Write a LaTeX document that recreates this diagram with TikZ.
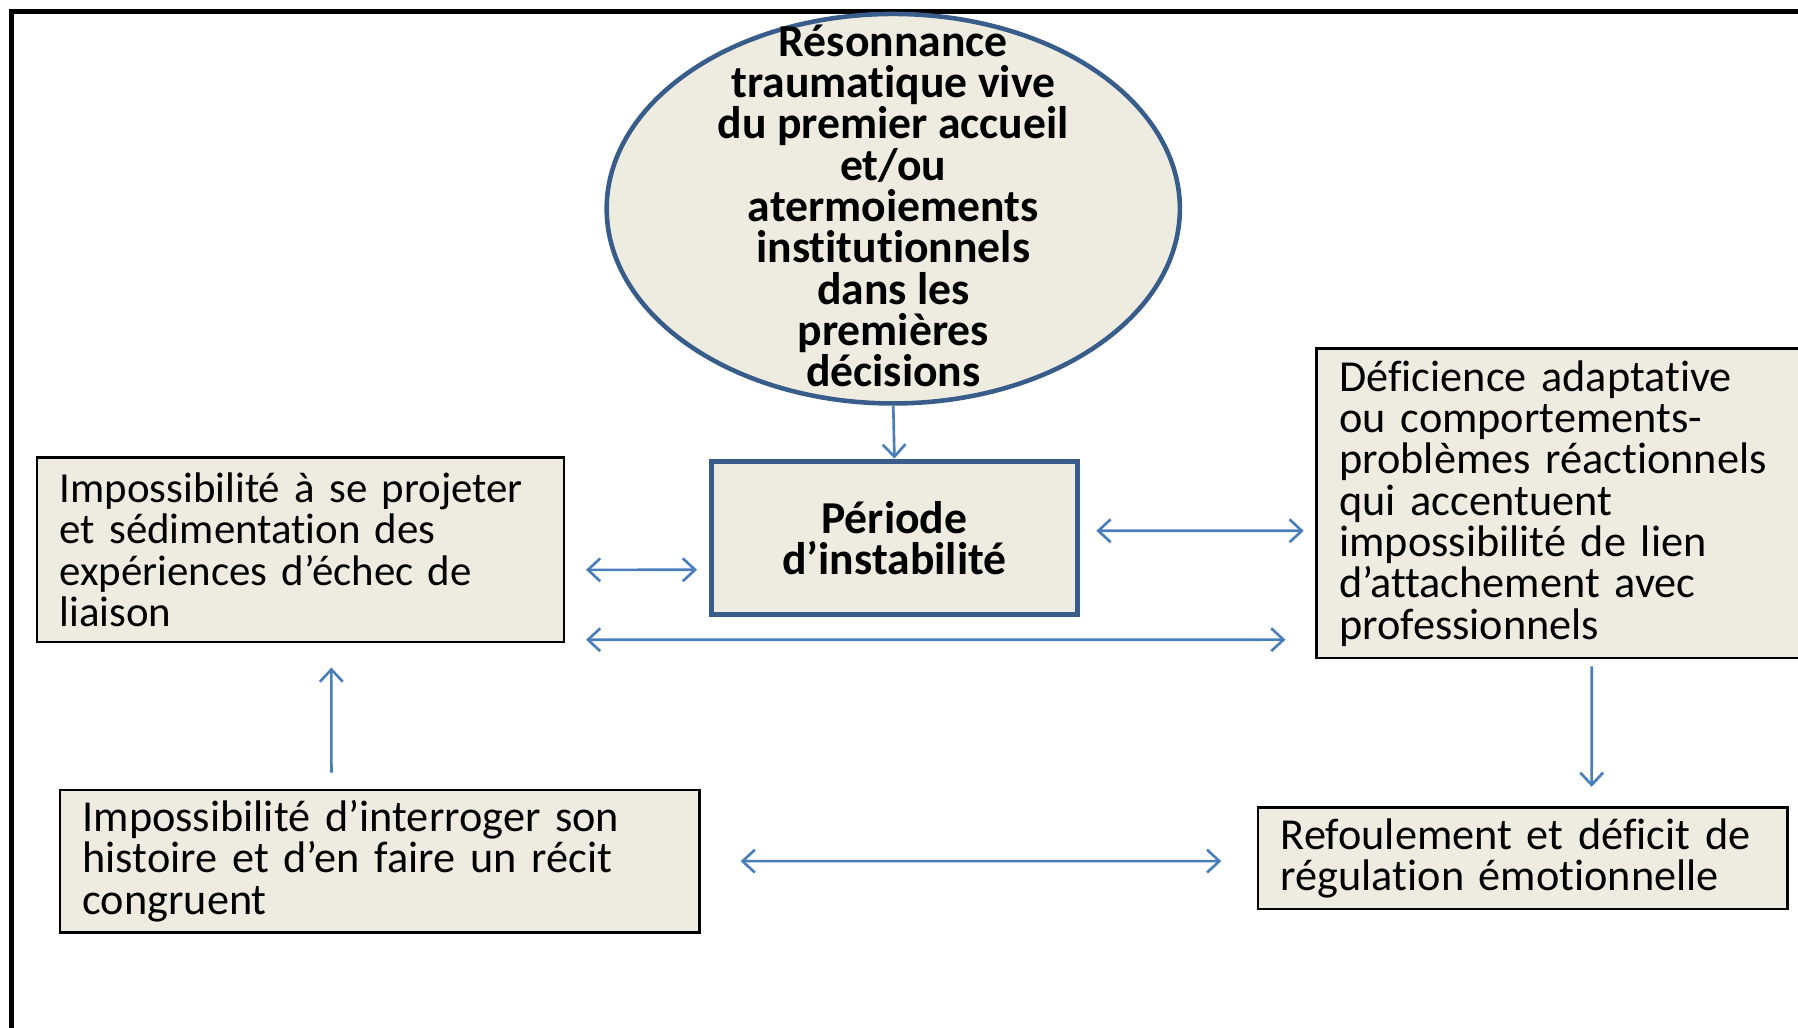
\documentclass[tikz,border=0pt]{standalone}
\usepackage{fontspec}
\setmainfont{Carlito}[Ligatures=NoCommon]
\usetikzlibrary{shapes.geometric,arrows.meta}
\definecolor{boxfill}{HTML}{EEECE1}
\definecolor{rim}{HTML}{385D8A}
\definecolor{linkblue}{HTML}{4A7EBB}
\hyphenpenalty=10000

\begin{document}
\begin{tikzpicture}[x=0.011467cm,y=-0.011467cm,
        box/.style={draw=black,line width=0.7pt,fill=boxfill,align=left,
            inner xsep=6.5pt,inner ysep=0pt,
            font=\fontsize{12.6}{11.75}\selectfont},
        midbox/.style={draw=rim,line width=1.4pt,fill=boxfill,align=center,
            minimum width=104.4pt,minimum height=43.7pt,
            font=\fontsize{13}{11.75}\selectfont\bfseries},
        bubble/.style={ellipse,draw=rim,line width=1.3pt,fill=boxfill,
            minimum width=163.2pt,minimum height=110.9pt,inner sep=0pt},
        bubtext/.style={align=center,inner sep=0pt,
            font=\fontsize{13}{11.75}\selectfont\bfseries},
        link/.style={draw=linkblue,line width=0.75pt,
            {Straight Barb[length=3.5pt,width=6.5pt]}-{Straight Barb[length=3.5pt,width=6.5pt]}},
        onelink/.style={draw=linkblue,line width=0.75pt,
            -{Straight Barb[length=3.5pt,width=6.5pt]}}]
\useasboundingbox (0,0) rectangle (1568,896);

% outer frame
\draw[line width=1.3pt] (10,905) -- (10,10) -- (1580,10);

\node[bubble] (trauma) at (779,182) {};
\node[bubtext] at ([yshift=0.8pt]trauma.center) {Résonnance\\traumatique vive\\du premier accueil\\et/ou\\atermoiements\\institutionnels\\dans les\\premières\\décisions};

\node[midbox] (period) at (780,469) {Période\\d’instabilité};

\node[box,text width=137.1pt,minimum height=52.5pt,
    font=\fontsize{12.2}{11.75}\selectfont] (project) at (262,479.5)
    {Impossibilité à se projeter\\et sédimentation des\\expériences d’échec de\\liaison};
\node[box,text width=127.3pt,minimum height=88.1pt] (deficit) at (1363,439)
    {Déficience adaptative\\ou comportements-\\problèmes réactionnels\\qui accentuent\\impossibilité de lien\\d’attachement avec\\professionnels};
\node[box,text width=169.1pt,minimum height=40.5pt] (story) at (331,751)
    {Impossibilité d’interroger son\\histoire et d’en faire un récit\\congruent};
\node[box,text width=137.8pt,minimum height=29pt] (repress) at (1328,748.5)
    {Refoulement et déficit de\\régulation émotionnelle};

% connectors
\draw[onelink] (trauma.south) -- (period.north);
\draw[link] ([xshift=5.9pt,yshift=-5.7pt]project.east) -- ([xshift=-3.3pt,yshift=-9.1pt]period.west);
\draw[link] ([xshift=4.6pt,yshift=2pt]period.east) -- ([xshift=-3.3pt,yshift=-7.8pt]deficit.west);
\draw[link] ([xshift=5.9pt,yshift=-25.6pt]project.east) -- ([xshift=-8.5pt,yshift=-38.8pt]deficit.west);
\draw[onelink] ([xshift=-13.7pt,yshift=4.6pt]story.north) -- ([xshift=8.8pt,yshift=-6.9pt]project.south);
\draw[onelink] ([xshift=8.2pt,yshift=-2pt]deficit.south) -- ([xshift=19.6pt,yshift=5.5pt]repress.north);
\draw[link] ([xshift=11.4pt]story.east) -- ([xshift=-10.1pt,yshift=-0.8pt]repress.west);
\end{tikzpicture}
\end{document}
